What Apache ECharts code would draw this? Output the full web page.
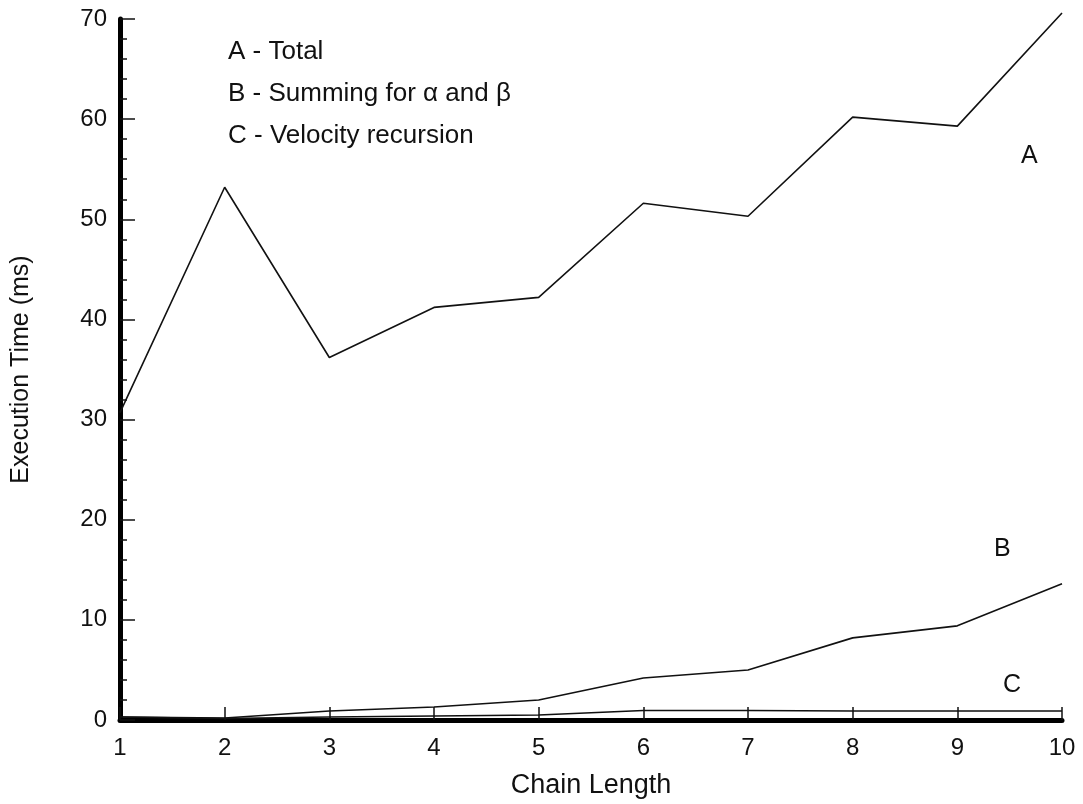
<!DOCTYPE html>
<html>
<head>
<meta charset="utf-8">
<script src="https://cdn.jsdelivr.net/npm/echarts@6/dist/echarts.min.js"></script>
<style>
  html, body { margin: 0; padding: 0; background: #fff; }
  #chart { width: 1083px; height: 804px; }
</style>
</head>
<body>
<div id="chart"></div>
<script>
// chain length on the x axis
const chainLength = [1, 2, 3, 4, 5, 6, 7, 8, 9, 10];
// A - total execution time (ms)
const totalTime = [30.7, 53.2, 36.2, 41.2, 42.2, 51.6, 50.3, 60.2, 59.3, 70.6];
// B - summing for alpha and beta (ms)
const summingTime = [0.3, 0.2, 0.9, 1.3, 2.0, 4.2, 5.0, 8.2, 9.4, 13.6];
// C - velocity recursion (ms)
const velocityTime = [0.3, 0.15, 0.3, 0.4, 0.5, 0.95, 0.95, 0.9, 0.9, 0.9];
const legendLines = ["A - Total", "B - Summing for \u03b1 and \u03b2", "C - Velocity recursion"];

const font = "Liberation Sans, Arial, Helvetica, sans-serif";

function pairs(vals) {
  return chainLength.map((x, i) => [x, vals[i]]);
}

function lineSeries(name, vals) {
  return {
    name: name,
    type: "line",
    data: pairs(vals),
    symbol: "none",
    clip: false,
    lineStyle: { color: "#111", width: 1.6 },
    animation: false,
  };
}

const chart = echarts.init(document.getElementById("chart"));
chart.setOption({
  backgroundColor: "#fff",
  grid: { left: 120, right: 21, top: 19, bottom: 83, containLabel: false },
  xAxis: {
    type: "value",
    min: 1,
    max: 10,
    interval: 1,
    name: "Chain Length",
    nameLocation: "middle",
    nameGap: 52,
    nameTextStyle: { fontFamily: font, fontSize: 27, color: "#111" },
    axisLine: { show: true, lineStyle: { color: "#000", width: 5 } },
    axisTick: { show: true, inside: true, length: 13, lineStyle: { color: "#111", width: 1.5 } },
    axisLabel: { fontFamily: font, fontSize: 24, color: "#111", margin: 16 },
    splitLine: { show: false },
  },
  yAxis: {
    type: "value",
    min: 0,
    max: 70,
    interval: 10,
    name: "Execution Time (ms)",
    nameLocation: "middle",
    nameGap: 86,
    nameRotate: 90,
    nameTextStyle: { fontFamily: font, fontSize: 25, color: "#111" },
    axisLine: { show: true, lineStyle: { color: "#000", width: 5 } },
    axisTick: { show: true, inside: true, length: 15, lineStyle: { color: "#111", width: 1.5 } },
    minorTick: { show: true, splitNumber: 5, length: 7, lineStyle: { color: "#111", width: 1.5 } },
    axisLabel: { fontFamily: font, fontSize: 24, color: "#111", margin: 13 },
    splitLine: { show: false },
    minorSplitLine: { show: false },
  },
  series: [
    lineSeries("A", totalTime),
    lineSeries("B", summingTime),
    lineSeries("C", velocityTime),
  ],
  graphic: [
    {
      type: "group",
      left: 228,
      top: 39,
      children: legendLines.map((t, i) => ({
        type: "text",
        top: i * 42,
        style: { text: t, font: "26px " + font, fill: "#111" },
      })),
    },
    { type: "text", left: 1021, top: 144, style: { text: "A", font: "25px " + font, fill: "#111" } },
    { type: "text", left: 994, top: 537, style: { text: "B", font: "25px " + font, fill: "#111" } },
    { type: "text", left: 1003, top: 673, style: { text: "C", font: "25px " + font, fill: "#111" } },
  ],
});

// the left axis line runs a little past the top tick in the original
const top70 = chart.convertToPixel({ gridIndex: 0 }, [1, 70]);
chart.setOption({
  graphic: [
    {
      type: "rect",
      shape: { x: top70[0] - 2.5, y: top70[1] - 11, width: 5, height: 12 },
      style: { fill: "#000" },
    },
  ],
});
</script>
</body>
</html>
